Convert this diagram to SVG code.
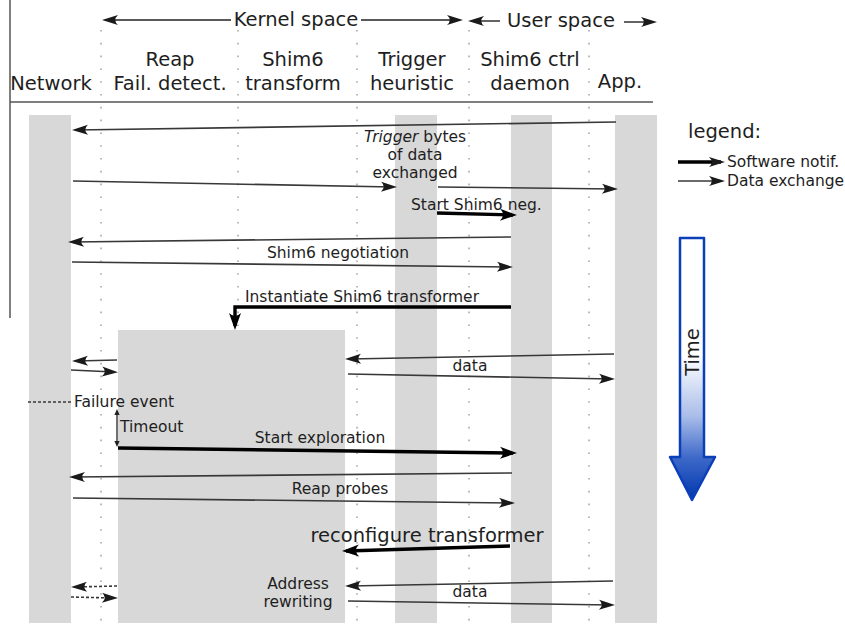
<svg xmlns="http://www.w3.org/2000/svg" width="845" height="624" viewBox="0 0 845 624">
  <style>
    text { font-family: "DejaVu Sans", "Liberation Sans", sans-serif; fill: #1e1e1e; }
    .hd { font-size: 19.5px; }
    .lb { font-size: 15.5px; }
    .mid { text-anchor: middle; }
    .lane { fill: #d8d8d8; }
    .dots { stroke: #a8a8a8; stroke-width: 1.6; stroke-dasharray: 1.6 11.2; fill: none; }
    .thin { stroke: #383838; stroke-width: 1.6; fill: none; marker-end: url(#ah); }
    .thick { stroke: #000; stroke-width: 3.4; fill: none; marker-end: url(#ahk); }
    .dash { stroke: #383838; stroke-width: 1.6; fill: none; stroke-dasharray: 3 2; marker-end: url(#ah); }
  </style>
  <defs>
    <marker id="ah" markerUnits="userSpaceOnUse" viewBox="-13 -6 18 12" markerWidth="18" markerHeight="12" refX="0" refY="0" orient="auto" overflow="visible">
      <path d="M4,0 L-12,-5 Q-6.5,0 -12,5 Z" fill="#1a1a1a"/>
    </marker>
    <marker id="ahk" markerUnits="userSpaceOnUse" viewBox="-14 -7 19 14" markerWidth="19" markerHeight="14" refX="0" refY="0" orient="auto" overflow="visible">
      <path d="M4,0 L-13,-6 Q-7,0 -13,6 Z" fill="#000"/>
    </marker>
    <marker id="ahs" markerUnits="userSpaceOnUse" viewBox="-6 -4 9 8" markerWidth="9" markerHeight="8" refX="0" refY="0" orient="auto-start-reverse" overflow="visible">
      <path d="M2,0 L-4,-2.6 L-4,2.6 Z" fill="#222"/>
    </marker>
    <linearGradient id="timeFill" gradientUnits="userSpaceOnUse" x1="0" y1="238" x2="0" y2="500">
      <stop offset="0" stop-color="#ffffff"/>
      <stop offset="0.45" stop-color="#ffffff"/>
      <stop offset="0.68" stop-color="#a9bde9"/>
      <stop offset="0.84" stop-color="#3d68c9"/>
      <stop offset="1" stop-color="#0036ad"/>
    </linearGradient>
  </defs>

  <!-- frame lines -->
  <line x1="10" y1="0" x2="10" y2="318" stroke="#555" stroke-width="1.5"/>
  <line x1="10" y1="102" x2="653" y2="102" stroke="#555" stroke-width="1.5"/>

  <!-- lifeline separators -->
  <g id="separators">
    <line class="dots" x1="101" y1="30" x2="101" y2="623"/>
    <line class="dots" x1="238" y1="30" x2="238" y2="623"/>
    <line class="dots" x1="357" y1="30" x2="357" y2="623"/>
    <line class="dots" x1="469" y1="30" x2="469" y2="623"/>
    <line class="dots" x1="589" y1="30" x2="589" y2="623"/>
  </g>

  <!-- space headers -->
  <g id="spaces">
    <line x1="231" y1="20" x2="106" y2="20" stroke="#222" stroke-width="1.4" marker-end="url(#ah)"/>
    <text class="hd mid" x="296" y="26">Kernel space</text>
    <line x1="361" y1="20" x2="459" y2="20" stroke="#222" stroke-width="1.4" marker-end="url(#ah)"/>
    <line x1="500" y1="21" x2="472" y2="21" stroke="#222" stroke-width="1.4" marker-end="url(#ah)"/>
    <text class="hd mid" x="561" y="27">User space</text>
    <line x1="624" y1="22" x2="653" y2="22" stroke="#222" stroke-width="1.4" marker-end="url(#ah)"/>
  </g>

  <!-- nodes -->
  <g id="network">
    <rect class="lane" x="29" y="115" width="42" height="508"/>
    <text class="hd mid" x="51" y="90">Network</text>
  </g>
  <g id="reap">
    <text class="hd mid" x="170" y="66">Reap</text>
    <text class="hd mid" x="170" y="90">Fail. detect.</text>
  </g>
  <g id="shim6-transform">
    <rect class="lane" x="118" y="330" width="227" height="293"/>
    <text class="hd mid" x="293" y="66">Shim6</text>
    <text class="hd mid" x="293" y="90">transform</text>
  </g>
  <g id="trigger">
    <rect class="lane" x="395" y="115" width="42" height="508"/>
    <text class="hd mid" x="412" y="66">Trigger</text>
    <text class="hd mid" x="412" y="90">heuristic</text>
  </g>
  <g id="shim6-daemon">
    <rect class="lane" x="511" y="115" width="41" height="508"/>
    <text class="hd mid" x="530" y="66">Shim6 ctrl</text>
    <text class="hd mid" x="530" y="90">daemon</text>
  </g>
  <g id="app">
    <rect class="lane" x="615" y="115" width="42" height="508"/>
    <text class="hd mid" x="620" y="88">App.</text>
  </g>

  <!-- messages -->
  <g id="connectors">
    <line class="thin" x1="616" y1="122" x2="76" y2="130"/>
    <line class="thin" x1="73" y1="181" x2="393" y2="187"/>
    <line class="thin" x1="438" y1="187" x2="614" y2="189"/>
    <line class="thick" x1="437" y1="213" x2="513" y2="215"/>
    <line class="thin" x1="511" y1="237" x2="72" y2="242"/>
    <line class="thin" x1="72" y1="262" x2="509" y2="267"/>
    <polyline class="thick" points="511,307 235,307 235,326"/>
    <line class="thin" x1="614" y1="354" x2="349" y2="359"/>
    <line class="thin" x1="348" y1="374" x2="611" y2="379"/>
    <line class="thin" x1="117" y1="360" x2="76" y2="361"/>
    <line class="thin" x1="71" y1="370" x2="114" y2="372"/>
    <line x1="28" y1="402" x2="71" y2="402" stroke="#383838" stroke-width="1.4" stroke-dasharray="3 2"/>
    <line x1="117" y1="411" x2="117" y2="445" stroke="#222" stroke-width="1.3" marker-start="url(#ahs)" marker-end="url(#ahs)"/>
    <line class="thick" x1="118" y1="448" x2="513" y2="453"/>
    <line class="thin" x1="512" y1="473" x2="73" y2="477"/>
    <line class="thin" x1="73" y1="498" x2="511" y2="503"/>
    <line class="thick" x1="510" y1="546" x2="346" y2="551"/>
    <line class="thin" x1="613" y1="581" x2="349" y2="586"/>
    <line class="thin" x1="348" y1="601" x2="611" y2="605"/>
    <line class="dash" x1="117" y1="586" x2="75" y2="587"/>
    <line class="dash" x1="71" y1="597" x2="114" y2="598"/>
  </g>

  <!-- message labels -->
  <g id="labels">
    <text class="lb mid" x="415" y="142"><tspan font-style="italic">Trigger</tspan> bytes</text>
    <text class="lb mid" x="415" y="160">of data</text>
    <text class="lb mid" x="415" y="178">exchanged</text>
    <text class="lb" x="411" y="210">Start Shim6 neg.</text>
    <text class="lb mid" x="338" y="258">Shim6 negotiation</text>
    <text class="lb mid" x="362" y="302">Instantiate Shim6 transformer</text>
    <text class="lb mid" x="470" y="371">data</text>
    <text class="lb" x="74" y="407">Failure event</text>
    <text class="lb" x="120" y="432">Timeout</text>
    <text class="lb mid" x="320" y="443">Start exploration</text>
    <text class="lb mid" x="340" y="494">Reap probes</text>
    <text class="hd mid" x="427" y="542">reconfigure transformer</text>
    <text class="lb mid" x="298" y="589">Address</text>
    <text class="lb mid" x="298" y="607">rewriting</text>
    <text class="lb mid" x="470" y="597">data</text>
  </g>

  <!-- legend -->
  <g id="legend">
    <text class="hd" x="688" y="138">legend:</text>
    <line x1="678" y1="162" x2="721" y2="162" stroke="#000" stroke-width="3.4" marker-end="url(#ah)"/>
    <text class="lb" x="727" y="167">Software notif.</text>
    <line x1="678" y1="181" x2="721" y2="181" stroke="#383838" stroke-width="1.6" marker-end="url(#ah)"/>
    <text class="lb" x="727" y="186">Data exchange</text>
  </g>

  <!-- time arrow -->
  <g id="time">
    <path d="M680,238 H704 V457 H715 L692,500 L670,457 H680 Z" fill="url(#timeFill)" stroke="#0a3fb8" stroke-width="2.5" stroke-linejoin="round"/>
    <text class="hd mid" transform="translate(699,352) rotate(-90)">Time</text>
  </g>
</svg>
